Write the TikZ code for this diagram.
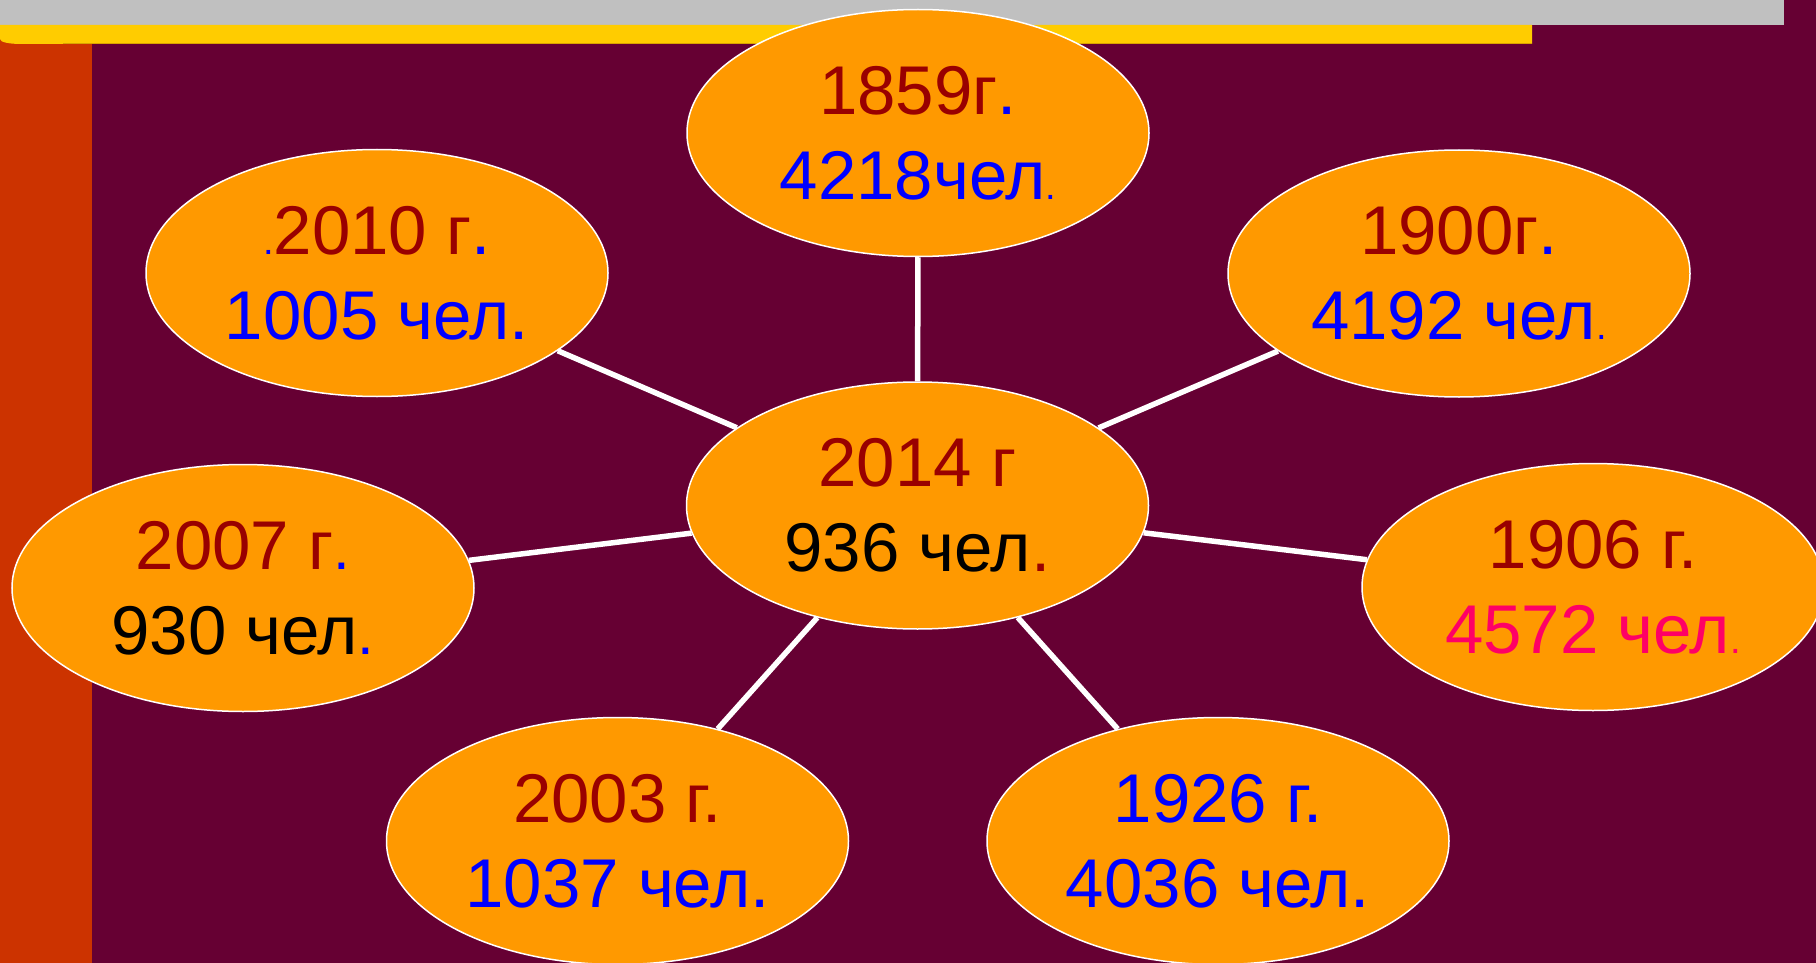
\documentclass[tikz,border=0pt]{standalone}
\usepackage{fontspec}
\setmainfont{Liberation Sans}
\usetikzlibrary{shapes.geometric}
\definecolor{bgmaroon}{HTML}{660033}
\definecolor{barorange}{HTML}{CC3300}
\definecolor{baryellow}{HTML}{FFCC00}
\definecolor{baryellowdark}{HTML}{D9A300}
\definecolor{bargrey}{HTML}{C0C0C0}
\definecolor{ellfill}{HTML}{FF9900}
\definecolor{darkred}{HTML}{990000}
\definecolor{txtblue}{HTML}{0000FF}
\definecolor{txtpink}{HTML}{FF0066}
\newcommand{\tinydot}[1]{{\fontsize{38}{85}\selectfont\color{#1}.}}
\newcommand{\middot}[1]{{\fontsize{60}{85}\selectfont\color{#1}.}}
\tikzset{
  ell/.style={ellipse, draw=white, line width=1.5pt, fill=ellfill,
    minimum width=462pt, minimum height=247pt, inner sep=0pt,
    align=center, font=\fontsize{69}{85}\selectfont,
    execute at begin node={\rule{0pt}{55pt}}},
  link/.style={draw=white, line width=5.5pt}
}
\begin{document}
\begin{tikzpicture}[x=1pt, y=-1pt]
\useasboundingbox (0,0) rectangle (1816,963);
% background and bars
\fill[bgmaroon] (0,0) rectangle (1816,963);
\fill[barorange] (0,38) rectangle (92,963);
\fill[bargrey] (0,0) rectangle (1784,25);
\fill[baryellow] (0,25) -- (1532,25) -- (1532,44) -- (22,44)
  .. controls (8,44) and (0,42) .. (0,39) -- cycle;
\fill[baryellowdark] (63,43) rectangle (1532,44);
% nodes
\node[ell] (c) at (917.5,505.5) {\color{darkred}2014 г\\\color{black}936 чел{\color{darkred}.}};
\node[ell] (n1859) at (918,133) {\color{darkred}1859г{\color{txtblue}.}\\\color{txtblue}4218чел\tinydot{txtblue}};
\node[ell] (n2010) at (377,273) {\tinydot{txtblue}\color{darkred}2010 г{\color{txtblue}.}\\\color{txtblue}1005 чел.};
\node[ell] (n1900) at (1459,273.5) {\color{darkred}1900г{\color{txtblue}.}\\\color{txtblue}4192 чел\tinydot{txtblue}};
\node[ell] (n2007) at (243,588) {\color{darkred}2007 г\middot{txtblue}\\\color{black}930 чел\middot{txtblue}};
\node[ell] (n1906) at (1593,587) {\color{darkred}1906 г.\\\color{txtpink}4572 чел\tinydot{txtpink}};
\node[ell] (n2003) at (617.5,841) {\color{darkred}2003 г.\\\color{txtblue}1037 чел.};
\node[ell] (n1926) at (1218,841) {\color{txtblue}1926 г.\\\color{txtblue}4036 чел.};
% connectors
\draw[link] (c) -- (n1859);
\draw[link] (c) -- (n2010);
\draw[link] (c) -- (n1900);
\draw[link] (c) -- (n2007);
\draw[link] (c) -- (n1906);
\draw[link] (c) -- (n2003);
\draw[link] (c) -- (n1926);
\end{tikzpicture}
\end{document}
